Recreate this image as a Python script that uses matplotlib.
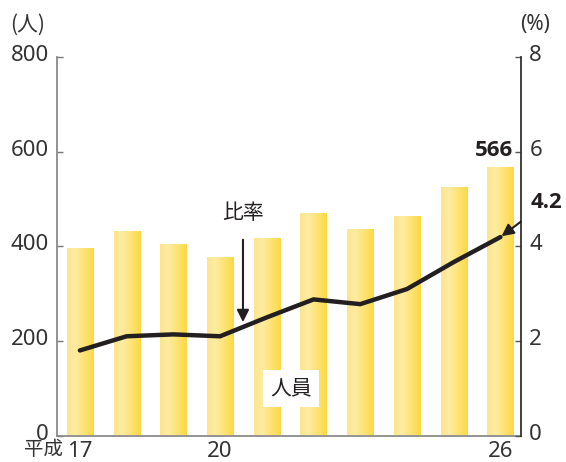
import numpy as np
import matplotlib
matplotlib.use('Agg')
import matplotlib.pyplot as plt
import matplotlib.transforms as mtransforms
from matplotlib.colors import LinearSegmentedColormap

plt.rcParams['font.family'] = ['Noto Sans', 'Noto Sans CJK JP', 'DejaVu Sans']
jp = ['Noto Sans CJK JP', 'DejaVu Sans']
bold_font = ['Open Sans', 'DejaVu Sans']

# 年度（平成）ごとの人員と比率
years = ['17', '18', '19', '20', '21', '22', '23', '24', '25', '26']
tick_years = ['17', '20', '26']
staff = [394, 430, 403, 375, 416, 469, 435, 462, 524, 566]
ratio = [1.80, 2.10, 2.14, 2.10, 2.50, 2.88, 2.78, 3.10, 3.67, 4.2]

ink = '#231f20'
txt = '#333333'
bar_cmap = LinearSegmentedColormap.from_list(
    'bar', [(0, '#fde58a'), (0.3, '#feeca4'), (1, '#fcd943')])

fig = plt.figure(figsize=(5.66, 4.62), dpi=100)
ax = fig.add_axes([57 / 566, 1 - 435.5 / 462, 464 / 566, 378 / 462])

x = np.arange(len(years))
bars = ax.bar(x, staff, width=0.56, color='none', edgecolor='none', zorder=2)
grad = np.linspace(0, 1, 64).reshape(1, -1)
for b in bars:
    x0, w, h = b.get_x(), b.get_width(), b.get_height()
    ax.imshow(grad, cmap=bar_cmap, extent=[x0, x0 + w, 0, h],
              aspect='auto', zorder=2)

ax.set_xlim(-0.49, 9.44)
ax.set_ylim(0, 800)
ax.set_yticks([0, 200, 400, 600, 800])
ax.set_xticks([x[years.index(t)] for t in tick_years])
ax.set_xticklabels(tick_years)
ax.tick_params(axis='y', direction='in', length=4.5, width=1, color='#777777',
               labelsize=16, labelcolor=txt, pad=6)
ax.tick_params(axis='x', length=0, labelsize=16, labelcolor=txt, pad=4)
for s in ['top', 'right']:
    ax.spines[s].set_visible(False)
for s in ['left', 'bottom']:
    ax.spines[s].set_color('#8a8a8a')
    ax.spines[s].set_linewidth(1.3)

ax.text(-0.37, -0.038, '平成', transform=ax.get_xaxis_transform(),
        ha='right', va='center', fontsize=14, color=txt, family=jp)
ax.text(-0.0625, 1.086, '(人)', transform=ax.transAxes, ha='center',
        va='center', fontsize=15, color=txt, family=jp)

# 比率（右軸）
ax2 = ax.twinx()
ax2.set_ylim(0, 8)
ax2.set_yticks([0, 2, 4, 6, 8])
ax2.plot(x, ratio, color=ink, lw=3.2, solid_capstyle='round',
         solid_joinstyle='miter', zorder=3)
ax2.tick_params(axis='y', direction='in', length=4.5, width=1, color='#555555',
                labelsize=16, labelcolor=txt, pad=6)
for s in ['top', 'left', 'bottom']:
    ax2.spines[s].set_visible(False)
ax2.spines['right'].set_color('#333333')
ax2.spines['right'].set_linewidth(1.3)
ax2.text(1.03, 1.086, '(%)', transform=ax.transAxes, ha='center', va='center',
         fontsize=15, color=txt)

# 目盛りの数字を少し上げる
lift = mtransforms.ScaledTranslation(0, 4 / 100, fig.dpi_scale_trans)
for lbl in ax.get_yticklabels() + ax2.get_yticklabels():
    lbl.set_transform(lbl.get_transform() + lift)

# 注記
ax.text(x[-1] + 0.27, 604, str(staff[-1]), ha='right', va='center',
        fontsize=16, fontweight='bold', family=bold_font, color=ink, zorder=5)
ax2.annotate(str(ratio[-1]), xy=(x[-1], ratio[-1]), xytext=(x[-1] + 0.98, 4.93),
             ha='center', va='center', fontsize=16, fontweight='bold',
             family=bold_font, color=ink,
             arrowprops=dict(arrowstyle='-|>', color=ink, lw=1.5,
                             mutation_scale=18, shrinkA=7, shrinkB=1))
ax2.annotate('比率', xy=(3.49, 2.40), xytext=(3.49, 4.7),
             ha='center', va='center', fontsize=15, color=ink, family=jp,
             arrowprops=dict(arrowstyle='-|>', color=ink, lw=1.5,
                             mutation_scale=18, shrinkA=9, shrinkB=0))
ax.text(4.52, 100, '人員', ha='center', va='center', fontsize=15, color=ink,
        family=jp, zorder=4,
        bbox=dict(boxstyle='square,pad=0.35', fc='white', ec='none'))

fig.savefig('out.png', dpi=100)
